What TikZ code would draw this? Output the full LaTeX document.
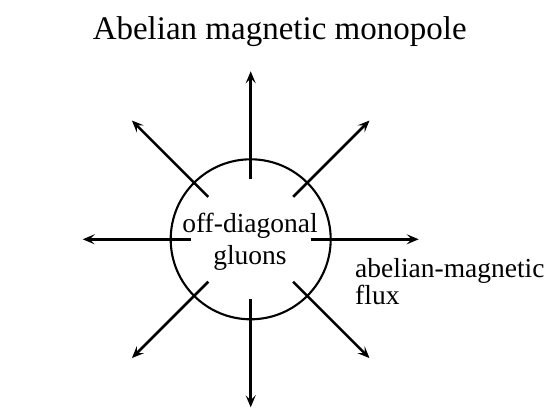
\documentclass[tikz,border=0pt]{standalone}
\usepackage{fontspec}
\setmainfont{Liberation Serif}
\usetikzlibrary{arrows.meta,calc}
\begin{document}
\begin{tikzpicture}[x=1pt,y=-1pt,
  flux/.style={line width=2.6pt,-{Stealth[length=12pt,width=10pt,inset=5pt]}},
  ring/.style={line width=2.1pt},
  lbl/.style={inner sep=0pt,font=\fontsize{27.5}{30}\selectfont},
  ttl/.style={inner sep=0pt,font=\fontsize{33}{38}\selectfont}]
\useasboundingbox (0,0) rectangle (549,415);
\coordinate (c) at (250.7,239.3);
\draw[ring] (c) circle[radius=80pt];
\foreach \a/\n in {0/e,45/ne,90/n,135/nw,180/w,225/sw,270/s,315/se}{
  \coordinate (s\n) at ($(c)+(\a:60pt)$);
  \coordinate (t\n) at ($(c)+(\a:168pt)$);
  \draw[flux] (s\n) -- (t\n);
}
\node[ttl,anchor=base] (title) at (279.7,39.3) {Abelian magnetic monopole};
\node[lbl,anchor=base] (gl1) at (250,232.7) {off-diagonal};
\node[lbl,anchor=base] (gl2) at (250,264.3) {gluons};
\node[lbl,anchor=base west] (fl1) at (355,277.5) {abelian-magnetic};
\node[lbl,anchor=base west] (fl2) at (355,304.3) {flux};
\end{tikzpicture}
\end{document}
